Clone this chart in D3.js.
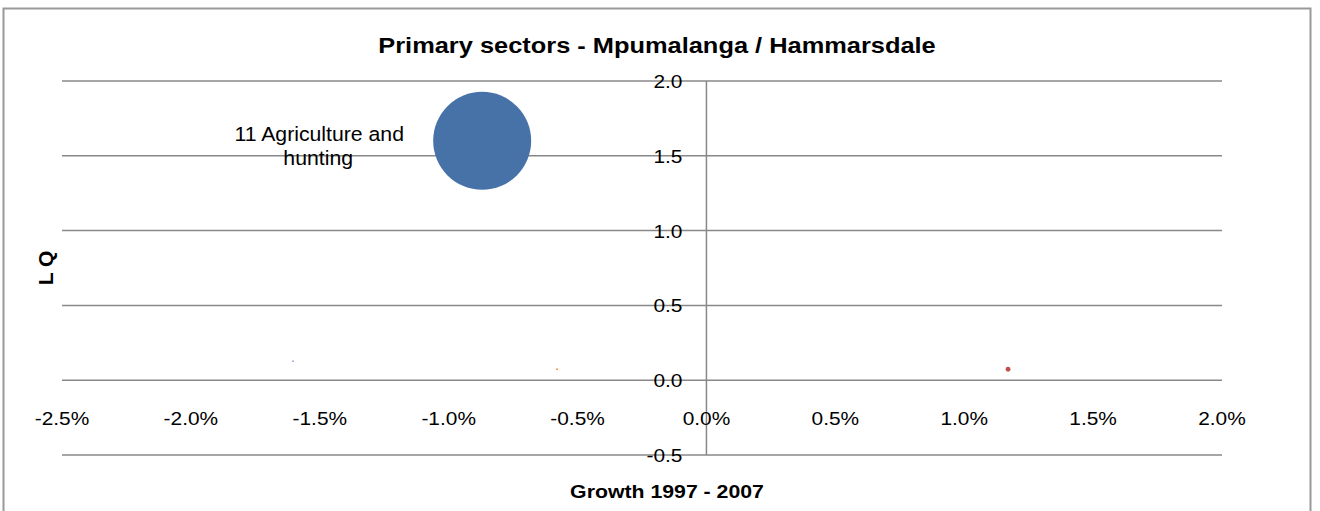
<!DOCTYPE html>
<html>
<head>
<meta charset="utf-8">
<script src="https://cdn.jsdelivr.net/npm/d3@7"></script>
<style>
  body { margin: 0; background: #fff; overflow: hidden; }
  text { font-family: 'Liberation Sans', Arial, sans-serif; fill: #000; }
</style>
</head>
<body>
<div id="chart"></div>
<script>
const names = ['11 Agriculture and hunting', 'Forestry', 'Fishing', 'Mining']
const growth = [-0.0087, -0.01604, -0.0058, 0.0117]
const lq = [1.6, 0.127, 0.073, 0.073]
const sizes = [2400, 0.8, 1, 6]
const colors = ['#4672A8', '#8FA3D6', '#F79646', '#C0504D']
const xTicks = [-0.025, -0.02, -0.015, -0.01, -0.005, 0, 0.005, 0.01, 0.015, 0.02]
const yTicks = [-0.5, 0, 0.5, 1.0, 1.5, 2.0]

const W = 1320
const H = 511
const grid = '#888'
const sx = 1.13 // source picture is a little wider than tall

const svg = d3.select('#chart').append('svg')
  .attr('width', W)
  .attr('height', H)

// outer frame
svg.append('rect')
  .attr('x', 3.5).attr('y', 8.5)
  .attr('width', 1307).attr('height', 520)
  .attr('fill', 'none')
  .attr('stroke', '#999')
  .attr('stroke-width', 2)

const x = d3.scaleLinear().domain([-0.025, 0.02]).range([62, 1222])
const y = d3.scaleLinear().domain([-0.5, 2.0]).range([455, 81])
const r = d3.scaleSqrt().domain([0, 2400]).range([0, 49])

const fmtX = d => d3.format('.1%')(d).replace('\u2212', '-')
const fmtY = d => d3.format('.1f')(d).replace('\u2212', '-')

// text placed at (px, py) and widened a bit
function label (px, py, str, size, anchor, weight, s) {
  return svg.append('g')
    .attr('transform', `translate(${px},${py}) scale(${s || sx},1)`)
    .append('text')
    .attr('text-anchor', anchor || 'middle')
    .attr('font-size', size)
    .attr('font-weight', weight || 'normal')
    .text(str)
}

// horizontal gridlines
svg.append('g')
  .selectAll('line')
  .data(yTicks)
  .join('line')
  .attr('x1', x.range()[0]).attr('x2', x.range()[1])
  .attr('y1', d => y(d)).attr('y2', d => y(d))
  .attr('stroke', grid)
  .attr('stroke-width', 1.5)

// vertical axis at 0%
svg.append('line')
  .attr('x1', x(0)).attr('x2', x(0))
  .attr('y1', y(2.0)).attr('y2', y(-0.5))
  .attr('stroke', grid)
  .attr('stroke-width', 1.5)

// y tick labels next to the axis
yTicks.forEach(t => label(x(0) - 24, y(t) + 7, fmtY(t), 18.5, 'end'))

// x tick labels
xTicks.forEach(t => label(x(t), 425, fmtX(t), 18.5, 'middle'))

// bubbles
const pts = names.map((n, i) => ({ name: n, gx: growth[i], lq: lq[i], size: sizes[i], color: colors[i] }))

svg.append('g')
  .selectAll('circle')
  .data(pts)
  .join('circle')
  .attr('cx', d => x(d.gx))
  .attr('cy', d => y(d.lq))
  .attr('r', d => r(d.size))
  .attr('fill', d => d.color)

// data label for the big bubble
label(x(growth[0]) - 163, y(lq[0]), '11 Agriculture and', 19.5, 'middle', 'normal', 1.09)
label(x(growth[0]) - 164, y(lq[0]) + 24, 'hunting', 19.5, 'middle', 'normal', 1.09)

// title
label(657, 53, 'Primary sectors - Mpumalanga / Hammarsdale', 22, 'middle', 'bold', 1.155)

// axis titles
label(667, 498, 'Growth 1997 - 2007', 18.5, 'middle', 'bold', 1.15)

svg.append('text')
  .attr('transform', 'translate(53,268) rotate(-90)')
  .attr('text-anchor', 'middle')
  .attr('font-size', 21)
  .attr('font-weight', 'bold')
  .text('L Q')
</script>
</body>
</html>
